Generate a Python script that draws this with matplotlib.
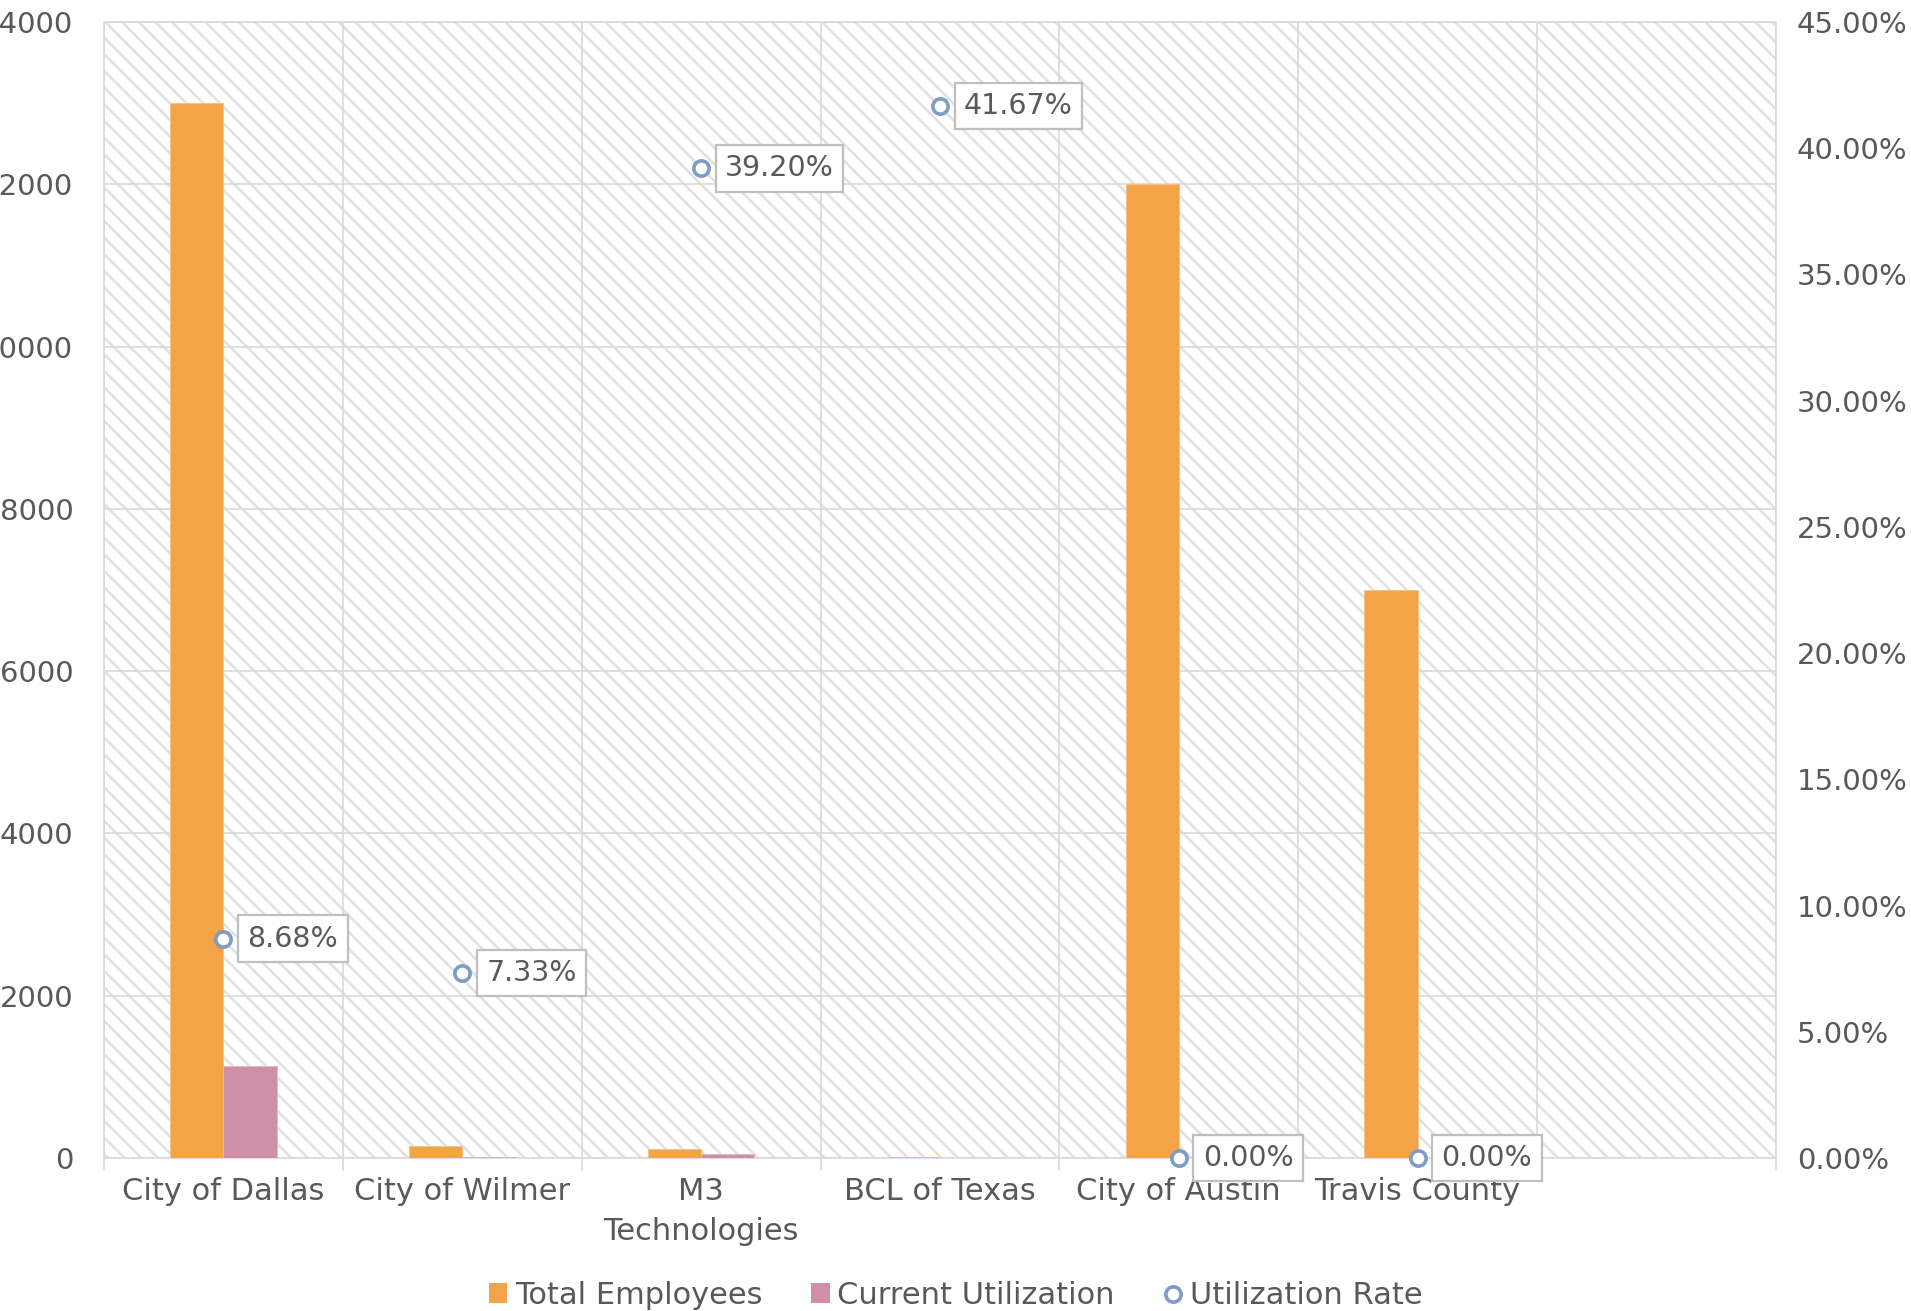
import numpy as np
import matplotlib
matplotlib.use('Agg')
import matplotlib.pyplot as plt
from matplotlib.ticker import FuncFormatter, FixedLocator
from matplotlib.lines import Line2D
from matplotlib.patches import Patch

# data
categories = ['City of Dallas', 'City of Wilmer', 'M3\nTechnologies', 'BCL of Texas',
              'City of Austin', 'Travis County', '']
total_employees = [13000, 150, 115, 12, 12000, 7000, np.nan]
current_utilization = [1128, 11, 45, 5, 0, 0, np.nan]
utilization_rate = [8.68, 7.33, 39.20, 41.67, 0.00, 0.00, np.nan]   # percent

left_ticks = [0, 2000, 4000, 6000, 8000, 10000, 12000, 14000]
right_ticks = [0, 5, 10, 15, 20, 25, 30, 35, 40, 45]

# colours
c_total = '#F2A446'
c_current = '#CF8FA6'
c_rate = '#7F9DC4'
c_text = '#595959'
c_grid = '#D9D9D9'

plt.rcParams['font.family'] = 'DejaVu Sans'
plt.rcParams['hatch.color'] = '#E2E2E2'
plt.rcParams['hatch.linewidth'] = 1.9

fs = 21

fig = plt.figure(figsize=(19.11, 13.11), dpi=100)
ax = fig.add_axes([0.0544, 0.1167, 0.8749, 0.8665])

x = np.arange(len(categories))
w = 0.223

# hatched plot area
ax.patch.set_facecolor('white')
ax.patch.set_hatch('\\\\')
ax.patch.set_edgecolor('#E2E2E2')
ax.patch.set_linewidth(0)

ax.bar(x - w / 2, total_employees, w, color=c_total, edgecolor='#F6C08A', linewidth=0.6, zorder=3)
ax.bar(x + w / 2, current_utilization, w, color=c_current, edgecolor='#E2B7C6', linewidth=0.6, zorder=3)

ax.set_xlim(-0.5, len(categories) - 0.5)
ax.set_ylim(0, 14000)
ax.yaxis.set_major_locator(FixedLocator(left_ticks))
ax.set_axisbelow(True)
ax.grid(axis='y', color=c_grid, linewidth=1.2)

ax.set_xticks(x)
ax.set_xticklabels(categories, fontsize=22, color=c_text, linespacing=1.45)
ax.xaxis.set_minor_locator(FixedLocator(np.arange(-0.5, len(categories), 1.0)))
ax.grid(axis='x', which='minor', color=c_grid, linewidth=1.2)
ax.tick_params(axis='x', which='major', length=0, pad=14)
ax.tick_params(axis='x', which='minor', length=9, width=1.2, color=c_grid)
ax.tick_params(axis='y', length=0, pad=22, labelsize=fs, labelcolor=c_text)

for s in ax.spines.values():
    s.set_color(c_grid)
    s.set_linewidth(1.2)

# secondary axis for the rate
ax2 = ax.twinx()
ax2.set_ylim(0, 45)
ax2.yaxis.set_major_locator(FixedLocator(right_ticks))
ax2.yaxis.set_major_formatter(FuncFormatter(lambda v, p: '%.2f%%' % v))
ax2.tick_params(axis='y', length=0, pad=15, labelsize=fs, labelcolor=c_text)
for s in ax2.spines.values():
    s.set_visible(False)

ax2.plot(x, utilization_rate, linestyle='none', marker='o', markersize=11,
         markerfacecolor='white', markeredgecolor=c_rate, markeredgewidth=2.6,
         zorder=5, clip_on=False)

for xi, r in zip(x, utilization_rate):
    if np.isnan(r):
        continue
    ax2.annotate('%.2f%%' % r, xy=(xi, r), xytext=(24, 0), textcoords='offset pixels',
                 ha='left', va='center', fontsize=20.5, color=c_text, zorder=6,
                 annotation_clip=False,
                 bbox=dict(boxstyle='square,pad=0.33', facecolor='white',
                           edgecolor='#BFBFBF', linewidth=1.6))

handles = [
    Patch(facecolor=c_total, edgecolor='none'),
    Patch(facecolor=c_current, edgecolor='none'),
    Line2D([], [], linestyle='none', marker='o', markersize=11, markerfacecolor='white',
           markeredgecolor=c_rate, markeredgewidth=2.6),
]
labels = ['Total Employees', 'Current Utilization', 'Utilization Rate']
fig.legend(handles, labels, loc='center', bbox_to_anchor=(0.5, 0.012), ncol=3,
           frameon=False, fontsize=22, labelcolor=c_text, handlelength=0.6,
           handleheight=0.6, handletextpad=0.25, columnspacing=1.6)

fig.savefig('out.png', dpi=100)
